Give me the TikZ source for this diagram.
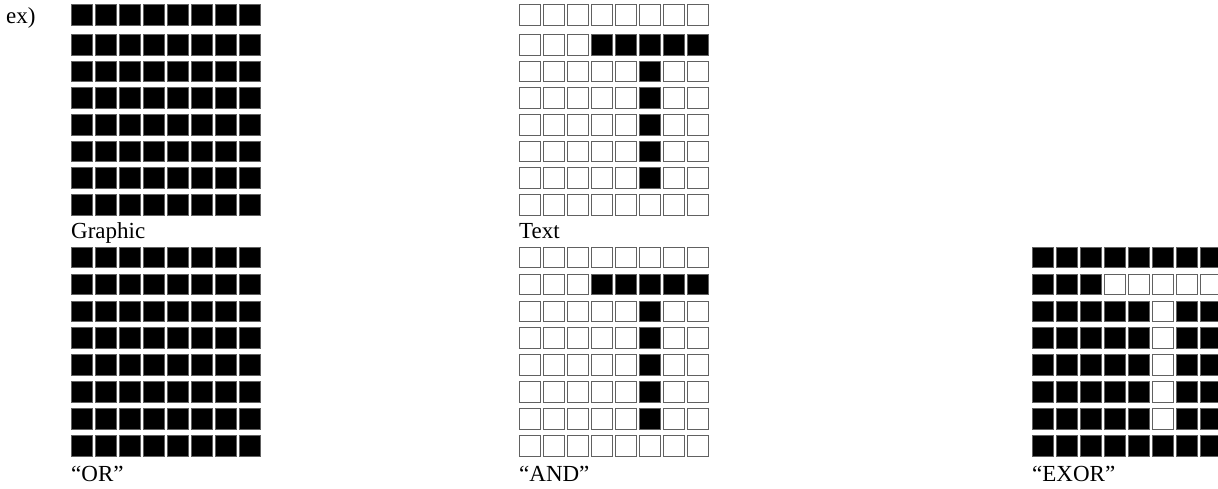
\documentclass[tikz,border=0pt]{standalone}
\usepackage{fontspec}
\setmainfont{Liberation Serif}

% one 8x8 bitmap: left x, row tops, pattern (0 all set, 1 letter T, 2 inverted T)
\newcommand{\bitmap}[3]{%
  \foreach \ty [count=\ry from 0] in {#2}
    \foreach \cx in {0,...,7} {
      \pgfmathtruncatemacro\tee{(\ry==1 && \cx>2) || (\ry>1 && \ry<7 && \cx==5)}
      \pgfmathtruncatemacro\ink{#3==0 ? 1 : (#3==1 ? \tee : 1-\tee)}
      \ifnum\ink=1 \def\cellfill{black}\else\def\cellfill{white}\fi
      \draw[pix, fill=\cellfill] ({#1+0.5+24*\cx},{\ty+0.5}) rectangle ++(21,20.5);
    }}

\begin{document}
\begin{tikzpicture}[x=1pt, y=-1pt,
  pix/.style={draw=black!62, line width=0.9pt},
  caption/.style={anchor=base west, inner sep=0pt, font=\fontsize{23}{27}\selectfont}]
  \useasboundingbox (0,0) rectangle (1218,488);
  \clip (0,0) rectangle (1218,488);
  \node[caption] (ex) at (6,23) {ex)};
  % source bitmaps
  \bitmap{71}{4,34,60.7,87.3,114,140.7,167.3,194}{0}
  \bitmap{519}{4,34,60.7,87.3,114,140.7,167.3,194}{1}
  \node[caption] (graphic) at (71,238) {Graphic};
  \node[caption] (text) at (519,238) {Text};
  % results
  \bitmap{71}{246.7,273.6,300.5,327.4,354.3,381.2,408.1,435}{0}
  \bitmap{519}{246.7,273.6,300.5,327.4,354.3,381.2,408.1,435}{1}
  \bitmap{1032}{246.7,273.6,300.5,327.4,354.3,381.2,408.1,435}{2}
  \node[caption] (or) at (71,481) {“OR”};
  \node[caption] (and) at (519,481) {“AND”};
  \node[caption] (exor) at (1032,481) {“EXOR”};
\end{tikzpicture}
\end{document}
